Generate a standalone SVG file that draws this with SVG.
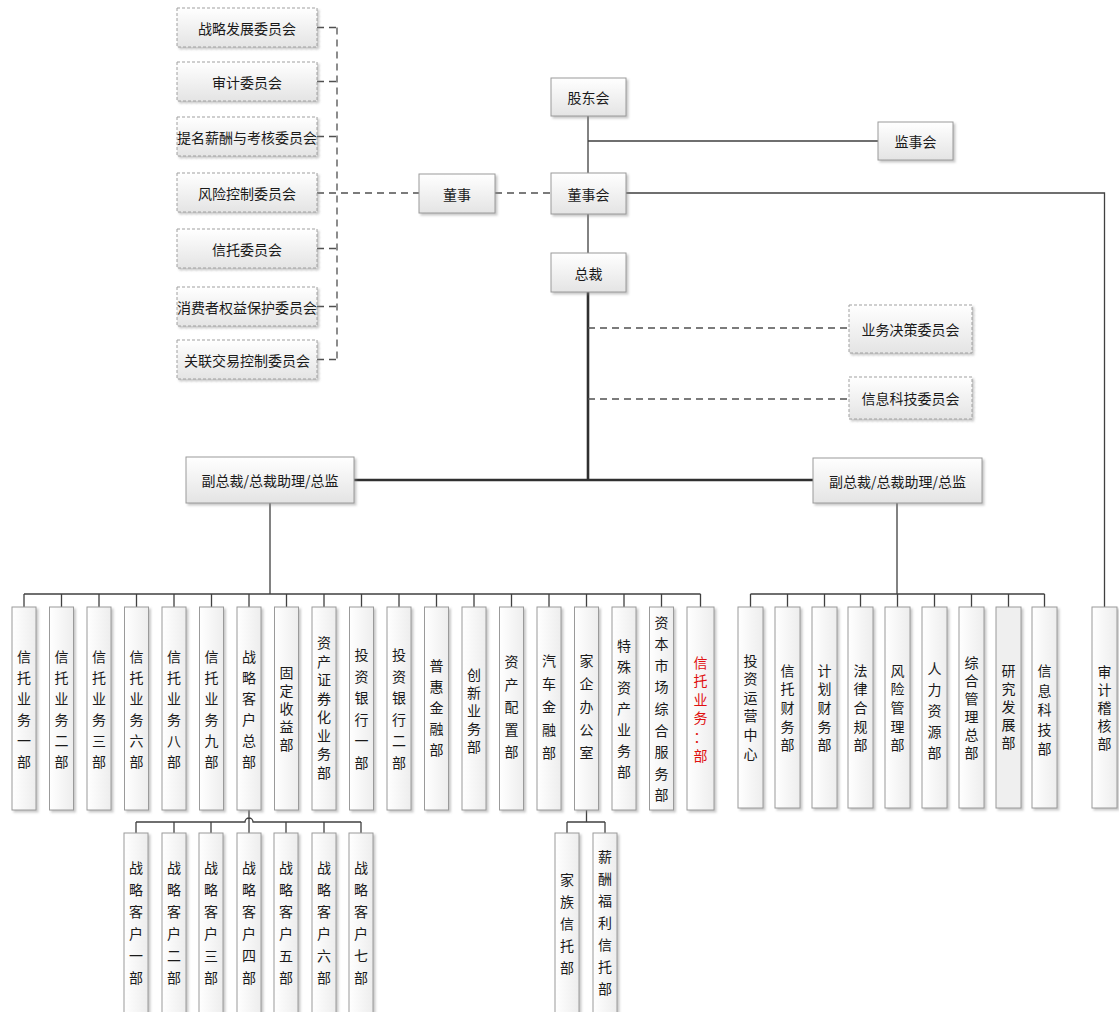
<svg xmlns="http://www.w3.org/2000/svg" width="1119" height="1012" viewBox="0 0 1119 1012">
<defs>
<linearGradient id="g" x1="0" y1="0" x2="0" y2="1"><stop offset="0" stop-color="#ffffff"/><stop offset="1" stop-color="#e4e4e4"/></linearGradient>
<linearGradient id="gv" x1="0" y1="0" x2="1" y2="0"><stop offset="0" stop-color="#ffffff"/><stop offset="1" stop-color="#ededed"/></linearGradient>
<filter id="sh" x="-20%" y="-20%" width="140%" height="140%"><feDropShadow dx="2" dy="2" stdDeviation="1" flood-color="#888" flood-opacity="0.45"/></filter>
</defs>
<style>
.box{fill:url(#g);stroke:#9a9a9a;stroke-width:1;filter:url(#sh)}
.dbox{fill:url(#g);stroke:#a0a0a0;stroke-width:1;stroke-dasharray:3 2;filter:url(#sh)}
.vbox{fill:url(#gv);stroke:#9a9a9a;stroke-width:1;filter:url(#sh)}
text{font-family:"Noto Sans CJK SC","Liberation Sans",sans-serif;fill:#1a1a1a}
.t{font-size:14px;text-anchor:middle;dominant-baseline:central}
.v{font-size:14px;text-anchor:middle;dominant-baseline:central}
.red{fill:#e01010}
.ln{stroke:#404040;stroke-width:1.3;fill:none}
.thick{stroke:#303030;stroke-width:2.6;fill:none}
.dash{stroke:#505050;stroke-width:1.3;stroke-dasharray:7 5;fill:none}
</style>
<rect width="1119" height="1012" fill="#ffffff"/>

<g id="connectors">
<path class="dash" d="M337 27.5V359.5"/>
<path class="dash" d="M317 27.5H337M317 81.5H337M317 136.5H337M317 248.5H337M317 306.5H337M317 359.5H337"/>
<path class="dash" d="M317 193H419M495 193H551"/>
<path class="ln" d="M588 116V173M588 141H878M588 214V253M626 193H1104.5V607"/>
<path class="thick" d="M588 292V480M354 480H813"/>
<path class="dash" d="M588 328H849M588 399H849"/>
<path class="ln" d="M270 503V594M24 594H700.5"/>
<path class="ln" d="M24 594V607M61.5 594V607M99 594V607M136.5 594V607M174 594V607M211.5 594V607M249 594V607M286.5 594V607M324 594V607M361.5 594V607M399 594V607M436.5 594V607M474 594V607M511.5 594V607M549 594V607M586.5 594V607M624 594V607M661.5 594V607M700.5 594V607"/>
<path class="ln" d="M897 503V594M750.5 594H1044.5"/>
<path class="ln" d="M750.5 594V607M787.5 594V607M824.5 594V607M860.5 594V607M897.5 594V607M934.5 594V607M971.5 594V607M1008.5 594V607M1044.5 594V607"/>
<path class="ln" d="M249 810V833M136 822H245A4 4 0 0 1 253 822H361"/>
<path class="ln" d="M136 822V833M174 822V833M211 822V833M286 822V833M324 822V833M361 822V833"/>
<path class="ln" d="M586.5 810V822M567 822H605M567 822V833M605 822V833"/>
</g>

<g id="c1"><rect class="dbox" x="177" y="8" width="140" height="39"/><text class="t" x="247" y="27.5">战略发展委员会</text></g>
<g id="c2"><rect class="dbox" x="177" y="62" width="140" height="39"/><text class="t" x="247" y="81.5">审计委员会</text></g>
<g id="c3"><rect class="dbox" x="177" y="117" width="140" height="39"/><text class="t" x="247" y="136.5">提名薪酬与考核委员会</text></g>
<g id="c4"><rect class="dbox" x="177" y="173" width="140" height="39"/><text class="t" x="247" y="192.5">风险控制委员会</text></g>
<g id="c5"><rect class="dbox" x="177" y="229" width="140" height="39"/><text class="t" x="247" y="248.5">信托委员会</text></g>
<g id="c6"><rect class="dbox" x="177" y="287" width="140" height="39"/><text class="t" x="247" y="306.5">消费者权益保护委员会</text></g>
<g id="c7"><rect class="dbox" x="177" y="340" width="140" height="39"/><text class="t" x="247" y="359.5">关联交易控制委员会</text></g>

<g id="dongshi"><rect class="box" x="419" y="174" width="76" height="39"/><text class="t" x="457" y="193.5">董事</text></g>
<g id="gudonghui"><rect class="box" x="551" y="78" width="75" height="38"/><text class="t" x="588.5" y="97">股东会</text></g>
<g id="dongshihui"><rect class="box" x="551" y="173" width="75" height="41"/><text class="t" x="588.5" y="193.5">董事会</text></g>
<g id="jianshihui"><rect class="box" x="878" y="122" width="75" height="38"/><text class="t" x="915.5" y="141">监事会</text></g>
<g id="zongcai"><rect class="box" x="551" y="253" width="75" height="39"/><text class="t" x="588.5" y="272.5">总裁</text></g>
<g id="ywjc"><rect class="dbox" x="849" y="305" width="123" height="48"/><text class="t" x="910.5" y="329">业务决策委员会</text></g>
<g id="xxkj"><rect class="dbox" x="849" y="377" width="123" height="42"/><text class="t" x="910.5" y="398">信息科技委员会</text></g>
<g id="vp-left"><rect class="box" x="186" y="457" width="168" height="46"/><text class="t" x="270" y="480">副总裁/总裁助理/总监</text></g>
<g id="vp-right"><rect class="box" x="813" y="458" width="169" height="45"/><text class="t" x="897.5" y="480.5">副总裁/总裁助理/总监</text></g>

<g id="d0"><rect class="vbox" x="12" y="607" width="24" height="203"/><text class="v"><tspan x="24" y="655.5">信</tspan><tspan x="24" y="676.5">托</tspan><tspan x="24" y="697.5">业</tspan><tspan x="24" y="718.5">务</tspan><tspan x="24" y="739.5">一</tspan><tspan x="24" y="760.5">部</tspan></text></g>
<g id="d1"><rect class="vbox" x="49.5" y="607" width="24" height="203"/><text class="v"><tspan x="61.5" y="655.5">信</tspan><tspan x="61.5" y="676.5">托</tspan><tspan x="61.5" y="697.5">业</tspan><tspan x="61.5" y="718.5">务</tspan><tspan x="61.5" y="739.5">二</tspan><tspan x="61.5" y="760.5">部</tspan></text></g>
<g id="d2"><rect class="vbox" x="87" y="607" width="24" height="203"/><text class="v"><tspan x="99" y="655.5">信</tspan><tspan x="99" y="676.5">托</tspan><tspan x="99" y="697.5">业</tspan><tspan x="99" y="718.5">务</tspan><tspan x="99" y="739.5">三</tspan><tspan x="99" y="760.5">部</tspan></text></g>
<g id="d3"><rect class="vbox" x="124.5" y="607" width="24" height="203"/><text class="v"><tspan x="136.5" y="655.5">信</tspan><tspan x="136.5" y="676.5">托</tspan><tspan x="136.5" y="697.5">业</tspan><tspan x="136.5" y="718.5">务</tspan><tspan x="136.5" y="739.5">六</tspan><tspan x="136.5" y="760.5">部</tspan></text></g>
<g id="d4"><rect class="vbox" x="162" y="607" width="24" height="203"/><text class="v"><tspan x="174" y="655.5">信</tspan><tspan x="174" y="676.5">托</tspan><tspan x="174" y="697.5">业</tspan><tspan x="174" y="718.5">务</tspan><tspan x="174" y="739.5">八</tspan><tspan x="174" y="760.5">部</tspan></text></g>
<g id="d5"><rect class="vbox" x="199.5" y="607" width="24" height="203"/><text class="v"><tspan x="211.5" y="655.5">信</tspan><tspan x="211.5" y="676.5">托</tspan><tspan x="211.5" y="697.5">业</tspan><tspan x="211.5" y="718.5">务</tspan><tspan x="211.5" y="739.5">九</tspan><tspan x="211.5" y="760.5">部</tspan></text></g>
<g id="d6"><rect class="vbox" x="237" y="607" width="24" height="203"/><text class="v"><tspan x="249" y="655.5">战</tspan><tspan x="249" y="676.5">略</tspan><tspan x="249" y="697.5">客</tspan><tspan x="249" y="718.5">户</tspan><tspan x="249" y="739.5">总</tspan><tspan x="249" y="760.5">部</tspan></text></g>
<g id="d7"><rect class="vbox" x="274.5" y="607" width="24" height="203"/><text class="v"><tspan x="286.5" y="672">固</tspan><tspan x="286.5" y="690">定</tspan><tspan x="286.5" y="708">收</tspan><tspan x="286.5" y="726">益</tspan><tspan x="286.5" y="744">部</tspan></text></g>
<g id="d8"><rect class="vbox" x="312" y="607" width="24" height="203"/><text class="v"><tspan x="324" y="642.3">资</tspan><tspan x="324" y="660.8">产</tspan><tspan x="324" y="679.3">证</tspan><tspan x="324" y="697.8">券</tspan><tspan x="324" y="716.3">化</tspan><tspan x="324" y="734.8">业</tspan><tspan x="324" y="753.3">务</tspan><tspan x="324" y="771.8">部</tspan></text></g>
<g id="d9"><rect class="vbox" x="349.5" y="607" width="24" height="203"/><text class="v"><tspan x="361.5" y="654.3">投</tspan><tspan x="361.5" y="675.8">资</tspan><tspan x="361.5" y="697.3">银</tspan><tspan x="361.5" y="718.8">行</tspan><tspan x="361.5" y="740.3">一</tspan><tspan x="361.5" y="761.8">部</tspan></text></g>
<g id="d10"><rect class="vbox" x="387" y="607" width="24" height="203"/><text class="v"><tspan x="399" y="654.3">投</tspan><tspan x="399" y="675.8">资</tspan><tspan x="399" y="697.3">银</tspan><tspan x="399" y="718.8">行</tspan><tspan x="399" y="740.3">二</tspan><tspan x="399" y="761.8">部</tspan></text></g>
<g id="d11"><rect class="vbox" x="424.5" y="607" width="24" height="203"/><text class="v"><tspan x="436.5" y="665">普</tspan><tspan x="436.5" y="686">惠</tspan><tspan x="436.5" y="707">金</tspan><tspan x="436.5" y="728">融</tspan><tspan x="436.5" y="749">部</tspan></text></g>
<g id="d12"><rect class="vbox" x="462" y="607" width="24" height="203"/><text class="v"><tspan x="474" y="674">创</tspan><tspan x="474" y="692">新</tspan><tspan x="474" y="710">业</tspan><tspan x="474" y="728">务</tspan><tspan x="474" y="746">部</tspan></text></g>
<g id="d13"><rect class="vbox" x="499.5" y="607" width="24" height="203"/><text class="v"><tspan x="511.5" y="661">资</tspan><tspan x="511.5" y="683.5">产</tspan><tspan x="511.5" y="706">配</tspan><tspan x="511.5" y="728.5">置</tspan><tspan x="511.5" y="751">部</tspan></text></g>
<g id="d14"><rect class="vbox" x="537" y="607" width="24" height="203"/><text class="v"><tspan x="549" y="660">汽</tspan><tspan x="549" y="683">车</tspan><tspan x="549" y="706">金</tspan><tspan x="549" y="729">融</tspan><tspan x="549" y="752">部</tspan></text></g>
<g id="d15"><rect class="vbox" x="574.5" y="607" width="24" height="203"/><text class="v"><tspan x="586.5" y="660">家</tspan><tspan x="586.5" y="683">企</tspan><tspan x="586.5" y="706">办</tspan><tspan x="586.5" y="729">公</tspan><tspan x="586.5" y="752">室</tspan></text></g>
<g id="d16"><rect class="vbox" x="612" y="607" width="24" height="203"/><text class="v"><tspan x="624" y="645">特</tspan><tspan x="624" y="666">殊</tspan><tspan x="624" y="687">资</tspan><tspan x="624" y="708">产</tspan><tspan x="624" y="729">业</tspan><tspan x="624" y="750">务</tspan><tspan x="624" y="771">部</tspan></text></g>
<g id="d17"><rect class="vbox" x="649.5" y="607" width="24" height="203"/><text class="v"><tspan x="661.5" y="621.6">资</tspan><tspan x="661.5" y="643.2">本</tspan><tspan x="661.5" y="664.8">市</tspan><tspan x="661.5" y="686.4">场</tspan><tspan x="661.5" y="708">综</tspan><tspan x="661.5" y="729.6">合</tspan><tspan x="661.5" y="751.2">服</tspan><tspan x="661.5" y="772.8">务</tspan><tspan x="661.5" y="794.4">部</tspan></text></g>
<g id="d18"><rect class="vbox" x="687" y="607" width="27" height="203"/><text class="v red"><tspan x="700.5" y="661.5">信</tspan><tspan x="700.5" y="680.1">托</tspan><tspan x="700.5" y="698.7">业</tspan><tspan x="700.5" y="717.3">务</tspan><tspan x="700.5" y="735.9">：</tspan><tspan x="700.5" y="754.5">部</tspan></text></g>

<g id="r0"><rect class="vbox" x="738" y="607" width="25" height="201"/><text class="v"><tspan x="750.5" y="659.5">投</tspan><tspan x="750.5" y="678.1">资</tspan><tspan x="750.5" y="696.7">运</tspan><tspan x="750.5" y="715.3">营</tspan><tspan x="750.5" y="733.9">中</tspan><tspan x="750.5" y="752.5">心</tspan></text></g>
<g id="r1"><rect class="vbox" x="775" y="607" width="25" height="201"/><text class="v"><tspan x="787.5" y="669.6">信</tspan><tspan x="787.5" y="688.3">托</tspan><tspan x="787.5" y="707">财</tspan><tspan x="787.5" y="725.7">务</tspan><tspan x="787.5" y="744.4">部</tspan></text></g>
<g id="r2"><rect class="vbox" x="812" y="607" width="25" height="201"/><text class="v"><tspan x="824.5" y="669.6">计</tspan><tspan x="824.5" y="688.3">划</tspan><tspan x="824.5" y="707">财</tspan><tspan x="824.5" y="725.7">务</tspan><tspan x="824.5" y="744.4">部</tspan></text></g>
<g id="r3"><rect class="vbox" x="848" y="607" width="25" height="201"/><text class="v"><tspan x="860.5" y="669.6">法</tspan><tspan x="860.5" y="688.3">律</tspan><tspan x="860.5" y="707">合</tspan><tspan x="860.5" y="725.7">规</tspan><tspan x="860.5" y="744.4">部</tspan></text></g>
<g id="r4"><rect class="vbox" x="885" y="607" width="25" height="201"/><text class="v"><tspan x="897.5" y="669.6">风</tspan><tspan x="897.5" y="688.3">险</tspan><tspan x="897.5" y="707">管</tspan><tspan x="897.5" y="725.7">理</tspan><tspan x="897.5" y="744.4">部</tspan></text></g>
<g id="r5"><rect class="vbox" x="922" y="607" width="25" height="201"/><text class="v"><tspan x="934.5" y="668">人</tspan><tspan x="934.5" y="689">力</tspan><tspan x="934.5" y="710">资</tspan><tspan x="934.5" y="731">源</tspan><tspan x="934.5" y="752">部</tspan></text></g>
<g id="r6"><rect class="vbox" x="959" y="607" width="25" height="201"/><text class="v"><tspan x="971.5" y="662">综</tspan><tspan x="971.5" y="680">合</tspan><tspan x="971.5" y="698">管</tspan><tspan x="971.5" y="716">理</tspan><tspan x="971.5" y="734">总</tspan><tspan x="971.5" y="752">部</tspan></text></g>
<g id="r7"><rect class="vbox" x="996" y="607" width="25" height="201" style="fill:#efefef"/><text class="v"><tspan x="1008.5" y="670">研</tspan><tspan x="1008.5" y="688">究</tspan><tspan x="1008.5" y="706">发</tspan><tspan x="1008.5" y="724">展</tspan><tspan x="1008.5" y="742">部</tspan></text></g>
<g id="r8"><rect class="vbox" x="1032" y="607" width="25" height="201"/><text class="v"><tspan x="1044.5" y="670">信</tspan><tspan x="1044.5" y="689.5">息</tspan><tspan x="1044.5" y="709">科</tspan><tspan x="1044.5" y="728.5">技</tspan><tspan x="1044.5" y="748">部</tspan></text></g>
<g id="audit"><rect class="vbox" x="1092" y="607" width="25" height="201"/><text class="v"><tspan x="1104.5" y="671">审</tspan><tspan x="1104.5" y="689">计</tspan><tspan x="1104.5" y="707">稽</tspan><tspan x="1104.5" y="725">核</tspan><tspan x="1104.5" y="743">部</tspan></text></g>

<g id="s1"><rect class="vbox" x="124" y="833" width="24" height="185"/><text class="v"><tspan x="136" y="867">战</tspan><tspan x="136" y="889">略</tspan><tspan x="136" y="911">客</tspan><tspan x="136" y="933">户</tspan><tspan x="136" y="955">一</tspan><tspan x="136" y="977">部</tspan></text></g>
<g id="s2"><rect class="vbox" x="162" y="833" width="24" height="185"/><text class="v"><tspan x="174" y="867">战</tspan><tspan x="174" y="889">略</tspan><tspan x="174" y="911">客</tspan><tspan x="174" y="933">户</tspan><tspan x="174" y="955">二</tspan><tspan x="174" y="977">部</tspan></text></g>
<g id="s3"><rect class="vbox" x="199" y="833" width="24" height="185"/><text class="v"><tspan x="211" y="867">战</tspan><tspan x="211" y="889">略</tspan><tspan x="211" y="911">客</tspan><tspan x="211" y="933">户</tspan><tspan x="211" y="955">三</tspan><tspan x="211" y="977">部</tspan></text></g>
<g id="s4"><rect class="vbox" x="237" y="833" width="24" height="185"/><text class="v"><tspan x="249" y="867">战</tspan><tspan x="249" y="889">略</tspan><tspan x="249" y="911">客</tspan><tspan x="249" y="933">户</tspan><tspan x="249" y="955">四</tspan><tspan x="249" y="977">部</tspan></text></g>
<g id="s5"><rect class="vbox" x="274" y="833" width="24" height="185"/><text class="v"><tspan x="286" y="867">战</tspan><tspan x="286" y="889">略</tspan><tspan x="286" y="911">客</tspan><tspan x="286" y="933">户</tspan><tspan x="286" y="955">五</tspan><tspan x="286" y="977">部</tspan></text></g>
<g id="s6"><rect class="vbox" x="312" y="833" width="24" height="185"/><text class="v"><tspan x="324" y="867">战</tspan><tspan x="324" y="889">略</tspan><tspan x="324" y="911">客</tspan><tspan x="324" y="933">户</tspan><tspan x="324" y="955">六</tspan><tspan x="324" y="977">部</tspan></text></g>
<g id="s7"><rect class="vbox" x="349" y="833" width="24" height="185"/><text class="v"><tspan x="361" y="867">战</tspan><tspan x="361" y="889">略</tspan><tspan x="361" y="911">客</tspan><tspan x="361" y="933">户</tspan><tspan x="361" y="955">七</tspan><tspan x="361" y="977">部</tspan></text></g>
<g id="f1"><rect class="vbox" x="555" y="833" width="24" height="185"/><text class="v"><tspan x="567" y="878.5">家</tspan><tspan x="567" y="900.5">族</tspan><tspan x="567" y="922.5">信</tspan><tspan x="567" y="944.5">托</tspan><tspan x="567" y="966.5">部</tspan></text></g>
<g id="f2"><rect class="vbox" x="593" y="833" width="24" height="185"/><text class="v"><tspan x="605" y="855.5">薪</tspan><tspan x="605" y="877.5">酬</tspan><tspan x="605" y="899.5">福</tspan><tspan x="605" y="921.5">利</tspan><tspan x="605" y="943.5">信</tspan><tspan x="605" y="965.5">托</tspan><tspan x="605" y="987.5">部</tspan></text></g>
</svg>
